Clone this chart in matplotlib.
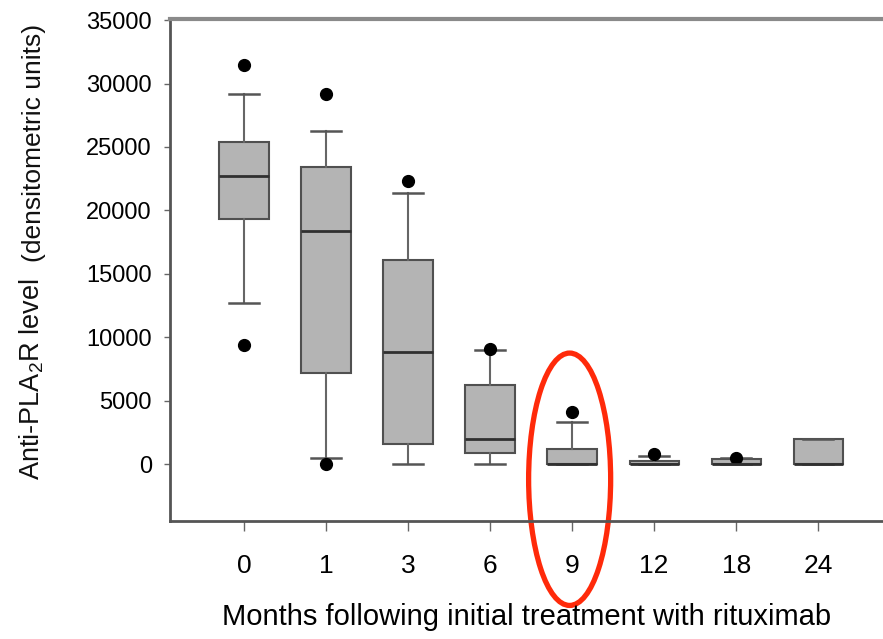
import matplotlib
matplotlib.use("Agg")
import matplotlib.pyplot as plt
from matplotlib.patches import Ellipse

plt.rcParams['font.family'] = ['Liberation Sans', 'DejaVu Sans']
plt.rcParams['mathtext.fontset'] = 'custom'
plt.rcParams['mathtext.rm'] = 'Liberation Sans'
plt.rcParams['mathtext.it'] = 'Liberation Sans:italic'
plt.rcParams['text.color'] = '#111111'

# months after rituximab
months = ['0', '1', '3', '6', '9', '12', '18', '24']
# box stats (densitometric units)
whislo = [12700, 500, 0, 0, 0, 0, 0, 0]
q1 = [19300, 7200, 1600, 850, 0, 0, 0, 0]
med = [22700, 18400, 8800, 2000, 0, 0, 0, 0]
q3 = [25400, 23400, 16100, 6200, 1200, 250, 420, 2000]
whishi = [29200, 26300, 21400, 9000, 3300, 650, 450, 2000]
fliers = [[31500, 9400], [29200, 0], [22300], [9100], [4100], [800], [500], []]

stats = []
for i in range(len(months)):
    stats.append(dict(whislo=whislo[i], q1=q1[i], med=med[i], q3=q3[i],
                      whishi=whishi[i], fliers=fliers[i], label=months[i]))

fig = plt.figure(figsize=(8.83, 6.39), dpi=100)
ax = fig.add_axes([0.1925, 0.1847, 0.8075, 0.7853])

ax.bxp(stats, positions=range(len(months)), widths=0.6, capwidths=0.37,
       patch_artist=True,
       boxprops=dict(facecolor='#b4b4b4', edgecolor='#505050', linewidth=1.5),
       medianprops=dict(color='#303030', linewidth=2),
       whiskerprops=dict(color='#666666', linewidth=1.5),
       capprops=dict(color='#555555', linewidth=1.8),
       flierprops=dict(marker='o', markerfacecolor='black', markeredgecolor='black',
                       markersize=8.5))

ax.set_xlim(-0.902, 7.79)
ax.set_ylim(-4490, 35080)
ax.set_yticks(range(0, 35001, 5000))
ax.set_xticks(range(len(months)))
ax.set_xticklabels(months, fontsize=19)
ax.tick_params(axis='y', labelsize=17, length=4, width=1, color='#666666', pad=9)
ax.tick_params(axis='x', length=7, width=1, color='#666666', pad=17)

ax.spines['right'].set_visible(False)
ax.spines['top'].set_color('#8a8a8a')
ax.spines['top'].set_linewidth(3)
for s in ['left', 'bottom']:
    ax.spines[s].set_color('#555555')
    ax.spines[s].set_linewidth(2)

ax.set_xlabel('Months following initial treatment with rituximab', fontsize=21, labelpad=18)

fig.text(32 / 883, 1 - 480 / 639, 'Anti-PLA$_2$R level', rotation=90,
         ha='center', va='bottom', fontsize=19.5)
fig.text(34 / 883, 1 - 262 / 639, '(densitometric units)', rotation=90,
         ha='center', va='bottom', fontsize=19)

# red circle highlighting month 9
ax.add_patch(Ellipse((3.97, -1200), 1.0, 19900, transform=ax.transData,
                     fill=False, edgecolor='#ff2a0a', linewidth=3.8, clip_on=False))

fig.savefig('out.png', dpi=100)
